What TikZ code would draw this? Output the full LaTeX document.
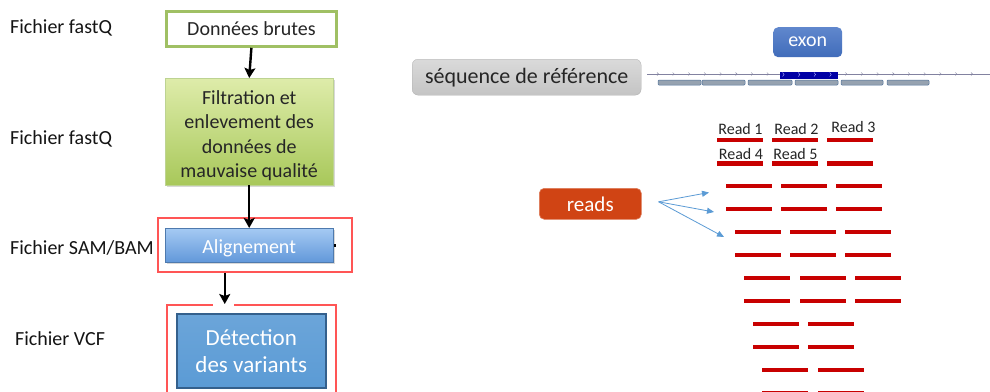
\documentclass[tikz,border=0pt]{standalone}
\usepackage{fontspec}
\setmainfont{Carlito}
\usetikzlibrary{arrows.meta,shadows,calc}
\definecolor{lblc}{RGB}{20,20,20}
\definecolor{grnb}{RGB}{160,192,100}
\definecolor{grntop}{RGB}{222,236,170}
\definecolor{grnbot}{RGB}{168,200,90}
\definecolor{bltop}{RGB}{165,202,243}
\definecolor{blbot}{RGB}{98,152,218}
\definecolor{detc}{RGB}{91,155,213}
\definecolor{detb}{RGB}{52,96,140}
\definecolor{redb}{RGB}{255,85,85}
\definecolor{grytop}{RGB}{218,218,218}
\definecolor{grybot}{RGB}{196,196,196}
\definecolor{exonc}{RGB}{68,114,196}
\definecolor{readsc}{RGB}{208,68,20}
\definecolor{readbarc}{RGB}{200,0,0}
\definecolor{arrb}{RGB}{91,155,213}
\definecolor{refl}{RGB}{130,130,160}
\definecolor{exonbar}{RGB}{0,0,165}
\definecolor{segf}{RGB}{150,162,176}
\definecolor{segd}{RGB}{80,115,155}
\definecolor{txtd}{RGB}{38,38,38}
\begin{document}
\begin{tikzpicture}[x=1pt,y=-1pt,
  lbl/.style={font=\fontsize{20}{24}\selectfont, text=lblc, anchor=base west, inner sep=0pt},
  boxbase/.style={anchor=north west, inner sep=0pt, align=center},
  rawbox/.style={boxbase, draw=grnb, line width=2.8pt, fill=white, font=\fontsize{20}{24}\selectfont, text=txtd},
  filtbox/.style={boxbase, top color=grntop, bottom color=grnbot, draw=grnb!70, line width=0.4pt, font=\fontsize{20}{24.5}\selectfont, text=txtd, drop shadow={shadow xshift=1.5pt, shadow yshift=-1.5pt, opacity=0.3}},
  alignbox/.style={boxbase, top color=bltop, bottom color=blbot, draw=blbot!80!black, line width=0.4pt, font=\fontsize{20}{24}\selectfont, text=white, drop shadow={shadow xshift=1.5pt, shadow yshift=-1.5pt, opacity=0.3}},
  detbox/.style={boxbase, top color=detc!90!white, bottom color=detc, draw=detb, line width=1.6pt, font=\fontsize{23}{27}\selectfont, text=white, drop shadow={shadow xshift=1.5pt, shadow yshift=-1.5pt, opacity=0.3}},
  redframe/.style={anchor=north west, draw=redb, line width=1.5pt, inner sep=0pt},
  blk/.style={line width=2.4pt, black, -{Stealth[width=11pt,length=10pt,inset=2pt]}},
  refbox/.style={boxbase, rounded corners=6pt, top color=grytop, bottom color=grybot, draw=grybot!90!black, line width=0.3pt, font=\fontsize{22}{26}\selectfont, text=txtd},
  exonbox/.style={boxbase, rounded corners=5pt, top color=exonc!85!white, bottom color=exonc!95!black, font=\fontsize{20}{24}\selectfont, text=white},
  readsbox/.style={boxbase, rounded corners=5pt, fill=readsc, draw=readsc!70!white, line width=0.6pt, font=\fontsize{21}{25}\selectfont, text=white},
  readlbl/.style={font=\fontsize{16}{19}\selectfont, text=txtd, anchor=base, inner sep=0pt},
  readbar/.style={line width=4.8pt, readbarc, line cap=butt},
  bluearr/.style={line width=0.8pt, arrb, -{Triangle[width=6pt,length=7pt]}},
  segbar/.style={fill=segf, draw=segd, line width=0.5pt, rounded corners=1pt}
]
\useasboundingbox (0,0) rectangle (990,391);
\fill[white] (0,0) rectangle (990,391);

% left labels
\node[lbl] (l1) at (10,33.5) {Fichier fastQ};
\node[lbl] (l2) at (10,144) {Fichier fastQ};
\node[lbl] (l3) at (10,254) {Fichier SAM/BAM};
\node[lbl] (l4) at (15,345.5) {Fichier VCF};

% flow boxes
\node[rawbox, minimum width=170pt, minimum height=35pt] (raw) at (165,10) {Données brutes};
\node[filtbox, minimum width=168pt, minimum height=107pt] (filt) at (165,78) {\rule{0pt}{22pt}Filtration et\\enlevement des\\données de\\mauvaise qualité};
\node[redframe, minimum width=194pt, minimum height=54pt] (red1) at (157,217) {};
\node[alignbox, minimum width=168pt, minimum height=34pt] (align) at (165,228) {\rule{0pt}{21pt}Alignement};
\fill[black] ($(align.east)+(0.5,-1.5)$) rectangle ++(2.5,3);

\begin{scope}
\clip (0,0) rectangle (990,391);
\node[redframe, minimum width=169pt, minimum height=110pt] (red2) at (166,304) {};
\fill[white] (213,302) rectangle (234,306.5);
\node[detbox, minimum width=149pt, minimum height=74pt] (det) at (176,313) {Détection\\des variants};
\end{scope}

\draw[blk] (raw.south) -- (filt.north);
\draw[blk] (filt.south) -- (align.north);
\draw[blk] ([xshift=-30pt]red1.south) -- ([xshift=-26.5pt]red2.north);

% reference
\node[refbox, minimum width=229pt, minimum height=36pt] (ref) at (412,59) {séquence de référence};
\node[exonbox, minimum width=69pt, minimum height=30pt] (exon) at (773,27) {exon};
\coordinate (rl0) at (647,74);
\coordinate (rl1) at (990,74);
\draw[refl, line width=0.6pt] (rl0) -- (rl1);
\fill[exonbar] (780,71.5) rectangle (838,79);
\foreach \t in {0,...,20}{
  \pgfmathsetmacro{\xx}{658+15.7*\t}
  \ifdim\xx pt>778pt \ifdim\xx pt<838pt
     \draw[white!70!blue, line width=0.4pt] (\xx-1,72.5) -- (\xx+0.5,74.5) -- (\xx-1,76.5);
  \else
     \draw[refl, line width=0.4pt] (\xx-1,72.5) -- (\xx+0.5,74) -- (\xx-1,75.5);
  \fi\else
     \draw[refl, line width=0.4pt] (\xx-1,72.5) -- (\xx+0.5,74) -- (\xx-1,75.5);
  \fi
}
\foreach \a/\b in {658/701,702/745,748/792,795/838,841/883,887/929}{
  \draw[segbar] (\a,80) rectangle (\b,85);
}

% reads
\node[readsbox, minimum width=102pt, minimum height=31pt] (reads) at (539,188) {reads};
\coordinate (src) at ($(reads.east)+(17,-2)$);
\coordinate (t1) at (709,192.5);
\coordinate (t2) at (714,212);
\coordinate (t3) at (724,237);
\draw[bluearr] (src) -- (t1);
\draw[bluearr] (src) -- (t2);
\draw[bluearr] (src) -- (t3);

\node[readlbl] (r1) at (740.5,134) {Read 1};
\node[readlbl] (r2) at (796.5,134) {Read 2};
\node[readlbl] (r3) at (853.5,132) {Read 3};
\node[readlbl] (r4) at (741,159) {Read 4};
\node[readlbl] (r5) at (795.5,159) {Read 5};

\foreach \y/\xs in {140/{717,772,827},163.5/{717,772,827},186/{726,781,836},209/{726,781,836},232/{735,790,845},255/{735,790,845},278/{744,800,855},301/{744,800,855},324/{753,808},347/{753,808},370/{762,818},393/{762,818}}{
  \foreach \x in \xs {
    \draw[readbar] (\x,\y) -- ++(46,0);
  }
}
\end{tikzpicture}
\end{document}
